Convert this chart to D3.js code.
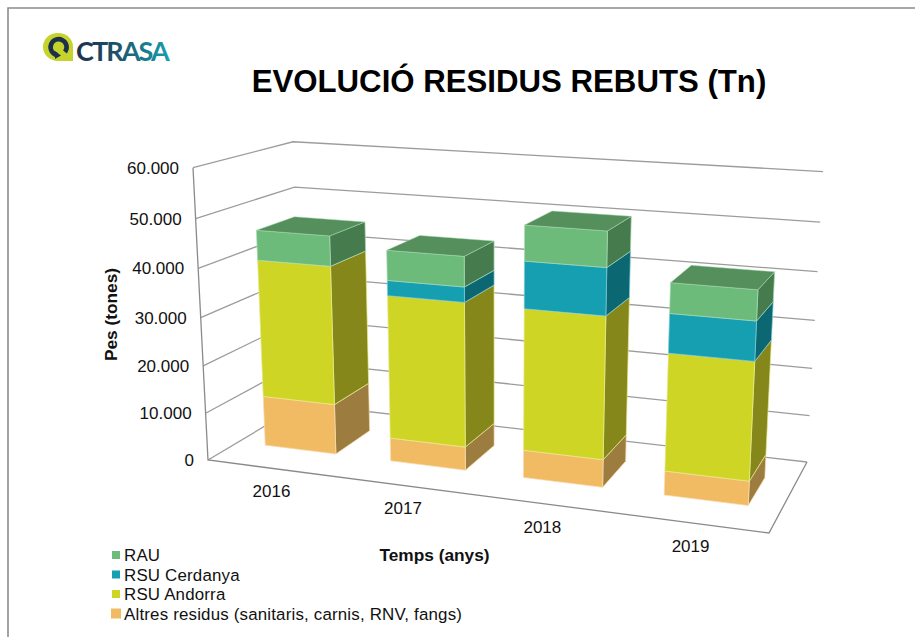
<!DOCTYPE html>
<html>
<head>
<meta charset="utf-8">
<script src="https://cdn.jsdelivr.net/npm/d3@7"></script>
<style>
  html, body { margin: 0; padding: 0; background: #fff; }
  svg { display: block; }
  text { font-family: "Liberation Sans", Arial, sans-serif; fill: #111; }
</style>
</head>
<body>
<svg id="chart" width="915" height="637"></svg>
<script>
const years = ['2016', '2017', '2018', '2019']
const seriesNames = ['Altres residus (sanitaris, carnis, RNV, fangs)', 'RSU Andorra', 'RSU Cerdanya', 'RAU']
const altres = [10700, 4900, 5700, 4900]
const andorra = [29000, 29800, 28800, 23500]
const cerdanya = [0, 3100, 9400, 7700]
const rau = [6200, 6100, 7000, 5900]
const yTicks = [0, 10000, 20000, 30000, 40000, 50000, 60000]
const frontColors = ['#F1BB63', '#CFD524', '#159FB1', '#6CBB7A']
const sideColors = ['#9D7C40', '#85871A', '#0B6873', '#467B4E']
const topColor = '#548F5C'
const edgeColors = ['#F8DDB0', '#E6E98F', '#7FCAD5', '#A9D9B2']
const legendRows = [555, 574.5, 594, 613.5]

const svg = d3.select('#chart')

// Frame, only top and left are visible
svg.append('path').attr('d', 'M8,637V8H915').attr('fill', 'none').attr('stroke', '#8c8c8c').attr('stroke-width', 1.6)

// Projection of the chart box: floor corners and wall tops
const floor = [[208, 460], [769, 533], [807, 462], [302, 404]]
const tops = [
  { x: 0, z: 0, p: [193, 169] },
  { x: 0, z: 1, p: [293, 142] },
  { x: 1, z: 1, p: [823, 170] },
]

const homography = (c) => {
  const dx1 = c[1][0] - c[2][0]
  const dx2 = c[3][0] - c[2][0]
  const sx = c[0][0] - c[1][0] + c[2][0] - c[3][0]
  const dy1 = c[1][1] - c[2][1]
  const dy2 = c[3][1] - c[2][1]
  const sy = c[0][1] - c[1][1] + c[2][1] - c[3][1]
  const den = dx1 * dy2 - dx2 * dy1
  const g = (sx * dy2 - dx2 * sy) / den
  const h = (dx1 * sy - sx * dy1) / den
  return {
    a: c[1][0] - c[0][0] + g * c[1][0],
    b: c[3][0] - c[0][0] + h * c[3][0],
    c: c[0][0],
    d: c[1][1] - c[0][1] + g * c[1][1],
    e: c[3][1] - c[0][1] + h * c[3][1],
    f: c[0][1],
    g,
    h,
  }
}
const H = homography(floor)

// Height column of the projection, least squares over the wall tops
const rows = []
tops.forEach((t) => {
  const bx = H.a * t.x + H.b * t.z + H.c
  const by = H.d * t.x + H.e * t.z + H.f
  const bw = H.g * t.x + H.h * t.z + 1
  rows.push([1, 0, -t.p[0], t.p[0] * bw - bx])
  rows.push([0, 1, -t.p[1], t.p[1] * bw - by])
})
const solve = (m) => {
  for (let i = 0; i < 3; i++) {
    for (let r = 0; r < 3; r++) {
      if (r === i) continue
      const q = m[r][i] / m[i][i]
      for (let k = i; k < 4; k++) m[r][k] -= q * m[i][k]
    }
  }
  return m.map((r, i) => r[3] / r[i])
}
const normal = d3.range(3).map((i) =>
  d3.range(4).map((j) => d3.sum(rows, (r) => r[i] * r[j]))
)
const [hm, hn, hk] = solve(normal)

const project = (x, y, z) => {
  const w = H.g * x + H.h * z + 1 + hk * y
  return [(H.a * x + H.b * z + H.c + hm * y) / w, (H.d * x + H.e * z + H.f + hn * y) / w]
}

const x = d3.scaleBand().domain(years).range([0, 1]).paddingInner(0.43).paddingOuter(0.22)
const y = d3.scaleLinear().domain([0, 60000]).range([0, 1])
const zBand = d3.scaleBand().domain(['bars']).range([0, 1]).padding(0.43)
const z0 = zBand('bars')
const z1 = z0 + zBand.bandwidth()

const line = d3.line()

// Walls and gridlines
const grid = svg.append('g').attr('fill', 'none')
yTicks.forEach((t) => {
  grid.append('path')
    .attr('d', line([project(0, y(t), 0), project(0, y(t), 1), project(1, y(t), 1)]))
    .attr('stroke', '#9c9c9c')
    .attr('stroke-width', 1.3)
})
grid.append('path')
  .attr('d', line([project(0, y(60000), 0), project(0, 0, 0), project(1, 0, 0), project(1, 0, 1)]))
  .attr('stroke', '#8a8a8a')
  .attr('stroke-width', 1.3)

// Tick labels
const fmt = (v) => (v === 0 ? '0' : d3.format('.3f')(v / 1000))
svg.append('g')
  .selectAll('text')
  .data(yTicks)
  .join('text')
  .attr('x', (d) => project(0, y(d), 0)[0] - 14)
  .attr('y', (d) => project(0, y(d), 0)[1] + 6)
  .attr('text-anchor', 'end')
  .style('font-size', '17px')
  .text(fmt)

svg.append('g')
  .selectAll('text')
  .data(years)
  .join('text')
  .attr('x', (d) => project(x(d) + x.bandwidth() / 2, 0, 0)[0])
  .attr('y', (d) => project(x(d) + x.bandwidth() / 2, 0, 0)[1] + 29)
  .attr('text-anchor', 'middle')
  .style('font-size', '17px')
  .text((d) => d)

// Stacked bars
const table = years.map((year, i) => ({
  year,
  s0: altres[i],
  s1: andorra[i],
  s2: cerdanya[i],
  s3: rau[i],
}))
const stacked = d3.stack().keys(['s0', 's1', 's2', 's3'])(table)

const quad = (pts) => line(pts) + 'Z'
const bars = svg.append('g')
table.forEach((row, i) => {
  const xa = x(row.year)
  const xb = xa + x.bandwidth()
  const g = bars.append('g')
  const total = stacked[3][i][1]
  stacked.forEach((layer, s) => {
    const [v0, v1] = layer[i]
    if (v1 - v0 <= 0) return
    const b = y(v0)
    const t = y(v1)
    g.append('path')
      .attr('d', quad([project(xb, b, z0), project(xb, b, z1), project(xb, t, z1), project(xb, t, z0)]))
      .attr('fill', sideColors[s])
      .attr('stroke', edgeColors[s])
      .attr('stroke-width', 0.7)
    g.append('path')
      .attr('d', quad([project(xa, b, z0), project(xb, b, z0), project(xb, t, z0), project(xa, t, z0)]))
      .attr('fill', frontColors[s])
      .attr('stroke', edgeColors[s])
      .attr('stroke-width', 0.7)
  })
  const t = y(total)
  g.append('path')
    .attr('d', quad([project(xa, t, z0), project(xb, t, z0), project(xb, t, z1), project(xa, t, z1)]))
    .attr('fill', topColor)
    .attr('stroke', edgeColors[3])
    .attr('stroke-width', 0.5)
})

// Titles
svg.append('text')
  .attr('x', 509).attr('y', 92)
  .attr('text-anchor', 'middle')
  .style('font-size', '31.2px').style('font-weight', 'bold').style('fill', '#000')
  .text('EVOLUCIÓ RESIDUS REBUTS (Tn)')
svg.append('text')
  .attr('transform', 'translate(117,314.5) rotate(-90)')
  .attr('text-anchor', 'middle')
  .style('font-size', '17.3px').style('font-weight', 'bold')
  .text('Pes (tones)')
svg.append('text')
  .attr('x', 434.5).attr('y', 561)
  .attr('text-anchor', 'middle')
  .style('font-size', '17.3px').style('font-weight', 'bold')
  .text('Temps (anys)')

// Legend, top row is the last series
const legend = svg.append('g')
d3.range(4).forEach((r) => {
  const s = 3 - r
  const size = s === 0 ? 10 : 8
  legend.append('rect')
    .attr('x', 116 - size / 2).attr('y', legendRows[r] - size / 2)
    .attr('width', size).attr('height', size)
    .attr('fill', frontColors[s])
  legend.append('text')
    .attr('x', 124).attr('y', legendRows[r] + 6)
    .style('font-size', '16.9px')
    .style('letter-spacing', '0.18px')
    .text(seriesNames[s])
})

// Logo
const defs = svg.append('defs')
const grad = defs.append('linearGradient').attr('id', 'logoText')
grad.append('stop').attr('offset', '0').attr('stop-color', '#1d3049')
grad.append('stop').attr('offset', '0.4').attr('stop-color', '#1c4f68')
grad.append('stop').attr('offset', '1').attr('stop-color', '#189fae')
const logo = svg.append('g')
logo.append('path')
  .attr('d', 'M73,61H58C49.5,61,43,54.5,43,47C43,39,49.5,33,58,33C66.5,33,73,39,73,47Z')
  .attr('fill', '#c5d32c')
logo.append('path')
  .attr('d', 'M65,52A8,8,0,1,0,57,55')
  .attr('fill', 'none').attr('stroke', '#1d3049').attr('stroke-width', 4.6)
logo.append('path')
  .attr('d', 'M55,51L61,55.5L55,59Z')
  .attr('fill', '#1d3049')
logo.append('text')
  .attr('x', 76).attr('y', 61)
  .style('fill', 'url(#logoText)')
  .style('font-family', 'Lato')
  .style('font-size', '27px')
  .style('font-weight', '700')
  .style('letter-spacing', '-1.9px')
  .text('CTRASA')
</script>
</body>
</html>
